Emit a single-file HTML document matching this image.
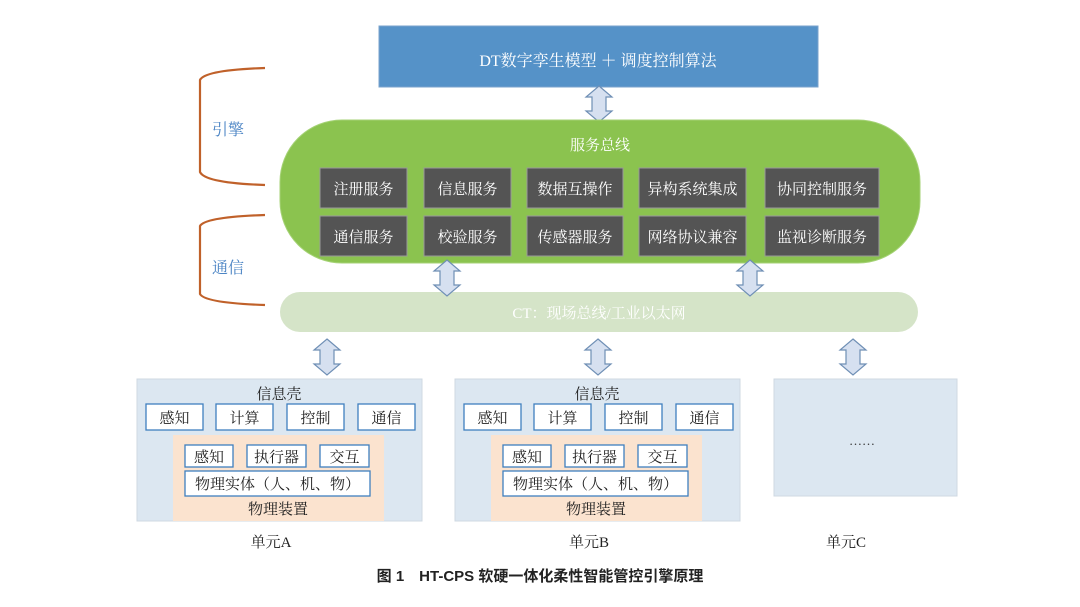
<!DOCTYPE html>
<html><head><meta charset="utf-8"><style>
body{margin:0;background:#fff}
svg text{font-family:"Liberation Serif","Noto Serif CJK SC","Noto Sans CJK SC",serif}
</style></head><body>
<svg width="1080" height="602" viewBox="0 0 1080 602" xmlns="http://www.w3.org/2000/svg">
<defs>
<symbol id="arr" viewBox="0 0 26 36" overflow="visible">
<path d="M13 0 L26 11 L20 11 L20 25 L26 25 L13 36 L0 25 L6 25 L6 11 L0 11 Z" fill="#d6e0f0" stroke="#6f8fb5" stroke-width="1.2"/>
</symbol>
</defs>
<!-- top -->
<rect x="379" y="26" width="439" height="61" fill="#5592c8" stroke="#7aa3cc"/>
<text x="598" y="66" font-size="16" fill="#fff" text-anchor="middle">DT数字孪生模型 ＋ 调度控制算法</text>
<use href="#arr" x="586" y="86" width="26" height="36"/>
<!-- brackets -->
<path d="M265 68 Q205 70 200 80 L200 172 Q205 183 265 185" fill="none" stroke="#c0612a" stroke-width="2.2"/>
<path d="M265 215 Q205 217 200 226 L200 294 Q205 303 265 305" fill="none" stroke="#c0612a" stroke-width="2.2"/>
<text x="212" y="135" font-size="16" fill="#4b84c4">引擎</text>
<text x="212" y="273" font-size="16" fill="#4b84c4">通信</text>
<!-- green pill -->
<rect x="280" y="120" width="640" height="143" rx="62" fill="#8bc34f" stroke="#a5d276"/>
<text x="600" y="150" font-size="15" fill="#fff" text-anchor="middle">服务总线</text>
<g font-size="15" fill="#fff" text-anchor="middle">
<rect x="320" y="168" width="87" height="40" fill="#545454" stroke="#9a9a9a"/><text x="363.5" y="194">注册服务</text>
<rect x="424" y="168" width="87" height="40" fill="#545454" stroke="#9a9a9a"/><text x="467.5" y="194">信息服务</text>
<rect x="527" y="168" width="96" height="40" fill="#545454" stroke="#9a9a9a"/><text x="575" y="194">数据互操作</text>
<rect x="639" y="168" width="107" height="40" fill="#545454" stroke="#9a9a9a"/><text x="692.5" y="194">异构系统集成</text>
<rect x="765" y="168" width="114" height="40" fill="#545454" stroke="#9a9a9a"/><text x="822" y="194">协同控制服务</text>
<rect x="320" y="216" width="87" height="40" fill="#545454" stroke="#9a9a9a"/><text x="363.5" y="242">通信服务</text>
<rect x="424" y="216" width="87" height="40" fill="#545454" stroke="#9a9a9a"/><text x="467.5" y="242">校验服务</text>
<rect x="527" y="216" width="96" height="40" fill="#545454" stroke="#9a9a9a"/><text x="575" y="242">传感器服务</text>
<rect x="639" y="216" width="107" height="40" fill="#545454" stroke="#9a9a9a"/><text x="692.5" y="242">网络协议兼容</text>
<rect x="765" y="216" width="114" height="40" fill="#545454" stroke="#9a9a9a"/><text x="822" y="242">监视诊断服务</text>
</g>
<!-- CT -->
<rect x="280" y="292" width="638" height="40" rx="20" fill="#d5e4c8"/>
<text x="599" y="318" font-size="15" fill="#fff" text-anchor="middle">CT：现场总线/工业以太网</text>
<use href="#arr" x="434" y="260" width="26" height="36"/>
<use href="#arr" x="737" y="260" width="26" height="36"/>
<use href="#arr" x="314" y="339" width="26" height="36"/>
<use href="#arr" x="585" y="339" width="26" height="36"/>
<use href="#arr" x="840" y="339" width="26" height="36"/>
<!-- units -->
<g id="unitA" font-size="15" fill="#222" text-anchor="middle">
<rect x="137" y="379" width="285" height="142" fill="#dce7f1" stroke="#cfd8e2"/>
<text x="279" y="399">信息壳</text>
<rect x="146" y="404" width="57" height="26" fill="#fff" stroke="#3f7fbf" stroke-width="1.3"/><text x="174.5" y="423">感知</text>
<rect x="216" y="404" width="57" height="26" fill="#fff" stroke="#3f7fbf" stroke-width="1.3"/><text x="244.5" y="423">计算</text>
<rect x="287" y="404" width="57" height="26" fill="#fff" stroke="#3f7fbf" stroke-width="1.3"/><text x="315.5" y="423">控制</text>
<rect x="358" y="404" width="57" height="26" fill="#fff" stroke="#3f7fbf" stroke-width="1.3"/><text x="386.5" y="423">通信</text>
<rect x="173" y="435" width="211" height="86" fill="#fbe3cf"/>
<rect x="185" y="445" width="48" height="22" fill="#fff" stroke="#3f7fbf" stroke-width="1.3"/><text x="209" y="462">感知</text>
<rect x="247" y="445" width="59" height="22" fill="#fff" stroke="#3f7fbf" stroke-width="1.3"/><text x="276.5" y="462">执行器</text>
<rect x="320" y="445" width="49" height="22" fill="#fff" stroke="#3f7fbf" stroke-width="1.3"/><text x="344.5" y="462">交互</text>
<rect x="185" y="471" width="185" height="25" fill="#fff" stroke="#3f7fbf" stroke-width="1.3"/><text x="277.5" y="489">物理实体（人、机、物）</text>
<text x="278" y="514">物理装置</text>
<text x="271" y="547">单元A</text>
</g>
<g font-size="15" fill="#222" text-anchor="middle" transform="translate(318,0)">
<rect x="137" y="379" width="285" height="142" fill="#dce7f1" stroke="#cfd8e2"/>
<text x="279" y="399">信息壳</text>
<rect x="146" y="404" width="57" height="26" fill="#fff" stroke="#3f7fbf" stroke-width="1.3"/><text x="174.5" y="423">感知</text>
<rect x="216" y="404" width="57" height="26" fill="#fff" stroke="#3f7fbf" stroke-width="1.3"/><text x="244.5" y="423">计算</text>
<rect x="287" y="404" width="57" height="26" fill="#fff" stroke="#3f7fbf" stroke-width="1.3"/><text x="315.5" y="423">控制</text>
<rect x="358" y="404" width="57" height="26" fill="#fff" stroke="#3f7fbf" stroke-width="1.3"/><text x="386.5" y="423">通信</text>
<rect x="173" y="435" width="211" height="86" fill="#fbe3cf"/>
<rect x="185" y="445" width="48" height="22" fill="#fff" stroke="#3f7fbf" stroke-width="1.3"/><text x="209" y="462">感知</text>
<rect x="247" y="445" width="59" height="22" fill="#fff" stroke="#3f7fbf" stroke-width="1.3"/><text x="276.5" y="462">执行器</text>
<rect x="320" y="445" width="49" height="22" fill="#fff" stroke="#3f7fbf" stroke-width="1.3"/><text x="344.5" y="462">交互</text>
<rect x="185" y="471" width="185" height="25" fill="#fff" stroke="#3f7fbf" stroke-width="1.3"/><text x="277.5" y="489">物理实体（人、机、物）</text>
<text x="278" y="514">物理装置</text>
<text x="271" y="547">单元B</text>
</g>
<rect x="774" y="379" width="183" height="117" fill="#dce7f1" stroke="#cfd8e2"/>
<text x="862" y="445" font-size="13" fill="#333" text-anchor="middle">……</text>
<text x="846" y="547" font-size="15" fill="#222" text-anchor="middle">单元C</text>
<text x="540" y="581" font-size="15" font-weight="bold" fill="#222" text-anchor="middle" style="font-family:'Liberation Sans','Noto Sans CJK SC',sans-serif">图 1　HT-CPS 软硬一体化柔性智能管控引擎原理</text>
</svg>
</body></html>
